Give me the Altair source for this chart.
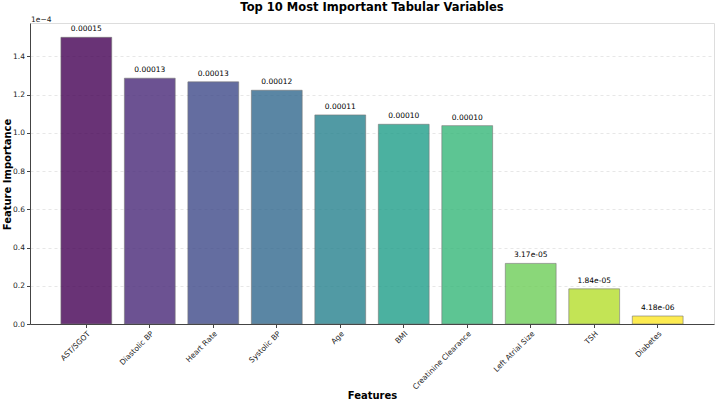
import altair as alt
import pandas as pd

features = ["AST/SGOT", "Diastolic BP", "Heart Rate", "Systolic BP", "Age", "BMI",
            "Creatinine Clearance", "Left Atrial Size", "TSH", "Diabetes"]
importance = [1.50e-4, 1.286e-4, 1.267e-4, 1.223e-4, 1.094e-4, 1.045e-4, 1.038e-4,
              3.17e-5, 1.84e-5, 4.18e-6]
colors = ["#440154", "#482878", "#3e4989", "#31688e", "#26828e", "#1f9e89",
          "#35b779", "#6ece58", "#b5de2b", "#fde725"]

labels = [f"{v:.5f}" if v >= 1e-4 else f"{v:.2e}" for v in importance]
df = pd.DataFrame({"feature": features, "importance": importance, "label": labels})

FONT = "DejaVu Sans"
SMALL = 7.5

x = alt.X("feature:N", sort=features,
          scale=alt.Scale(paddingInner=0.2, paddingOuter=0.487),
          axis=alt.Axis(title="Features", labelAngle=-45, labelAlign="right",
                        labelBaseline="top", labelFontSize=SMALL, labelColor="#222",
                        titleFontSize=10, titleFont=FONT, titleFontWeight="bold",
                        titleColor="black", titleY=74, titleBaseline="alphabetic",
                        tickColor="#444", tickSize=3.5, domainColor="#444", labelPadding=2))
y = alt.Y("importance:Q",
          scale=alt.Scale(domain=[0, 1.575e-4], nice=False, zero=True),
          axis=alt.Axis(title="Feature Importance", values=[0, 2e-5, 4e-5, 6e-5, 8e-5, 1e-4, 1.2e-4, 1.4e-4],
                        labelExpr="format(datum.value*10000, '.1f')", labelFontSize=SMALL,
                        labelColor="#222", titleFontSize=10, titleFont=FONT,
                        titleFontWeight="bold", titleColor="black",
                        titleX=-22.5, titleY=151, titleAngle=270, titleAlign="center",
                        titleBaseline="middle", labelPadding=2,
                        gridDash=[3, 3], gridColor="#dddddd", gridOpacity=0.7,
                        tickColor="#444", tickSize=3.5, domainColor="#444"))

bars = alt.Chart(df).mark_bar(opacity=0.8, stroke="#555555", strokeWidth=1, strokeOpacity=0.6).encode(
    x=x, y=y,
    color=alt.Color("feature:N", sort=features,
                    scale=alt.Scale(domain=features, range=colors), legend=None)
)

text = alt.Chart(df).mark_text(dy=-4, fontSize=SMALL, font=FONT, color="black", baseline="bottom").encode(
    x=alt.X("feature:N", sort=features), y=alt.Y("importance:Q"), text="label:N"
)

offset = alt.Chart(df).mark_text(fontSize=SMALL, font=FONT, align="left", baseline="alphabetic",
                                 color="#222").encode(
    x=alt.value(1), y=alt.value(-1), text=alt.value("1e\u22124")
).transform_filter(alt.datum.feature == "AST/SGOT")

chart = alt.layer(bars, text, offset).properties(
    width=684, height=301,
    autosize=alt.AutoSizeParams(type="none"),
    padding={"left": 30, "top": 23, "right": 3, "bottom": 77},
    title=alt.TitleParams("Top 10 Most Important Tabular Variables", fontSize=11.5,
                          font=FONT, fontWeight="bold", color="black", offset=5, dy=2,
                          anchor="middle")
).configure_view(stroke="#555555", strokeWidth=1).configure(font=FONT)

chart.save("out.html", embed_options={"renderer": "svg", "actions": False})
